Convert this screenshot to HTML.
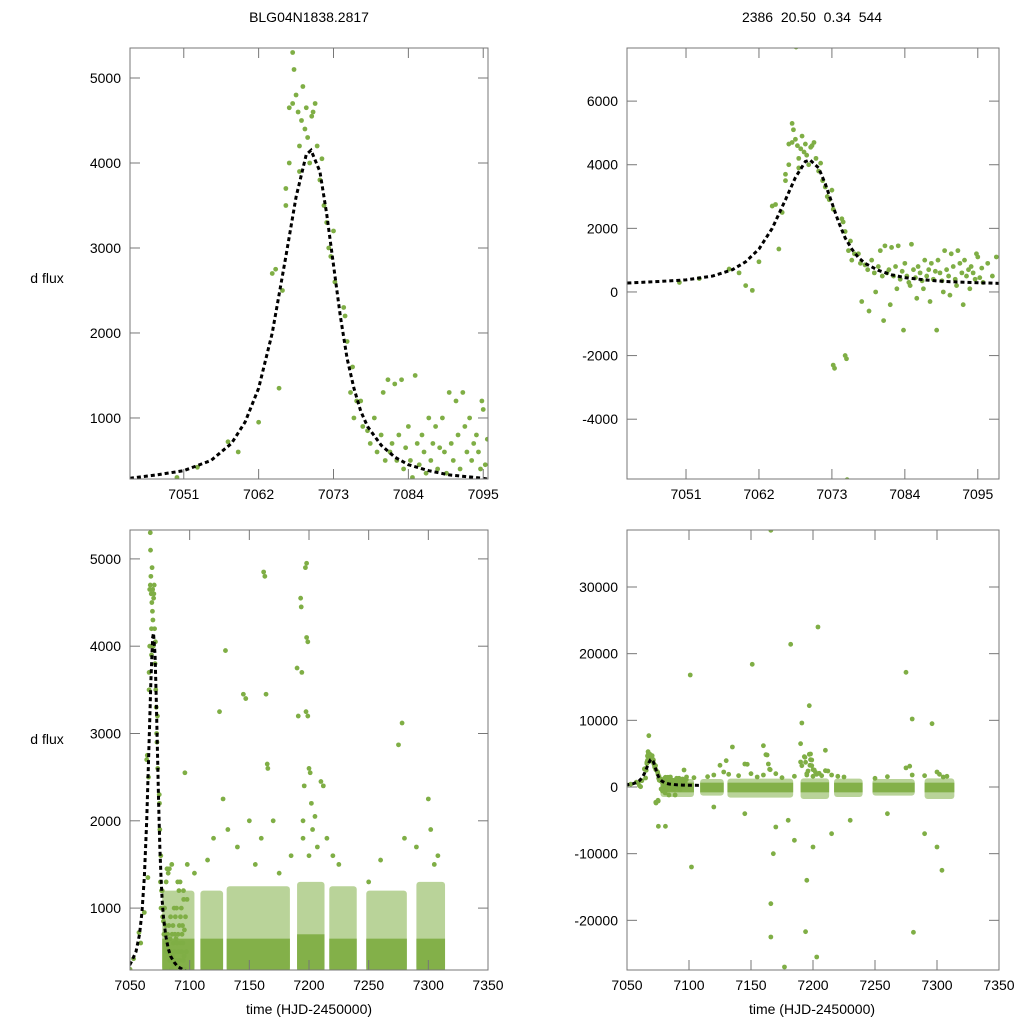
<!DOCTYPE html>
<html><head><meta charset="utf-8">
<style>
html,body{margin:0;padding:0;background:#fff;width:1024px;height:1024px;overflow:hidden;}
svg{display:block;font-family:"Liberation Sans",sans-serif;}
</style></head>
<body>
<svg id="chart" width="1024" height="1024" viewBox="0 0 1024 1024">
<rect width="1024" height="1024" fill="#fff"/>
<text x="309" y="22" font-size="14" text-anchor="middle" fill="#000">BLG04N1838.2817</text>
<text x="812" y="22" font-size="14" text-anchor="middle" fill="#000" xml:space="preserve">2386  20.50  0.34  544</text>
<text x="47" y="283" font-size="14" text-anchor="middle" fill="#000">d flux</text>
<text x="47" y="744" font-size="14" text-anchor="middle" fill="#000">d flux</text>
<text x="309" y="1014" font-size="14" text-anchor="middle" fill="#000">time (HJD-2450000)</text>
<text x="812" y="1014" font-size="14" text-anchor="middle" fill="#000">time (HJD-2450000)</text>
</svg>
<script>
// observations (time, flux)
const obsTime=[7050,7053,7057.5,7059,7060,7061,7062,7064,7064.5,7065,7065.5,7066,7066,7066.5,7066.5,7067,7067,7067.2,7067.5,7067.6,7067.8,7068,7068,7068.3,7068.5,7068.8,7069,7069.2,7069.5,7069.8,7070,7070.3,7070.6,7071,7071.3,7071.6,7072,7072.3,7072.6,7073,7073.2,7073.2,7073.4,7074.5,7074.7,7075,7075,7075.2,7075.3,7075.5,7075.8,7076,7076.4,7077,7077.3,7077.5,7078,7078.4,7078.6,7079,7079.4,7079.6,7080,7080.3,7080.6,7080.8,7081,7081.3,7081.6,7081.8,7082,7082.3,7082.6,7082.8,7083,7083.3,7083.6,7083.8,7084,7084.3,7084.6,7084.8,7085,7085.3,7085.6,7085.8,7086,7086.3,7086.6,7086.8,7087,7087.3,7087.6,7087.8,7088,7088.3,7088.6,7088.8,7089,7089.3,7089.6,7089.8,7090,7090.3,7090.6,7090.8,7091,7091.3,7091.6,7091.8,7092,7092.3,7092.6,7092.8,7093,7093.3,7093.6,7093.8,7094,7094.3,7094.6,7094.8,7095,7095.3,7095.6,7095.8,7096.5,7097.2,7097.8];
const obsFlux=[300,420,720,600,200,50,950,2700,2750,1350,2500,3500,3700,4650,4000,4700,5300,5100,4800,7700,4600,4200,3900,4500,4900,4400,4650,4300,4000,4550,4600,4700,4200,3800,4050,3500,3300,3000,2900,3200,2600,-2300,-2400,2300,2200,1900,-2000,-2100,-5900,1300,1600,1000,1200,1200,900,-300,850,700,-600,1000,600,0,800,1300,500,-900,1450,600,700,-400,1400,500,800,100,1450,400,650,-1200,900,500,300,200,1500,700,450,-200,800,600,350,100,1000,500,700,-300,900,400,650,-1200,1000,600,350,0,1300,700,500,-100,1200,800,400,200,1300,900,600,-400,1000,500,700,100,800,600,400,1200,1100,450,750,300,900,500,1100];
// outliers of later seasons
const outTime=[7096,7098,7104,7115,7120,7125,7128,7130,7132,7140,7145,7147,7150,7155,7160,7162,7163,7164,7165,7165.5,7170,7175,7185,7190,7191,7193,7193.5,7194,7195,7195,7196,7197,7198,7198,7199,7197.5,7199,7200,7201,7202,7203,7200,7205,7207,7210,7212,7215,7220,7225,7250,7260,7275,7278,7280,7290,7300,7302,7305,7308,
7101,7151,7166,7182,7204,7197,7191,7280,7275,7296,7102,7166,7166,7177,7194,7203,7281,7304,7195,7168,7081,7135,7160,7170,7185,7200,7215,7230,7260,7290,7300,7120,7145,7210,7190,7180];
const outFlux=[2550,1500,1400,1550,1800,3250,2250,3950,1900,1700,3450,3400,2000,1500,1800,4850,4800,3450,2650,2600,2000,1400,1600,3750,3200,4550,4450,3700,2000,1800,2400,4900,4950,4100,4050,3250,3200,2600,2550,2200,1900,1600,2050,1700,2450,2400,1800,1600,1500,1300,1550,2870,3120,1800,1700,2250,1900,1500,1600,
16800,18400,38500,21400,24000,12200,9600,10200,17200,9500,-12000,-17500,-22500,-27000,-21700,-25500,-21800,-12500,-14000,-10000,-5900,6000,6200,-6000,-8000,-9000,-7000,-5000,-4000,-7000,-9000,-3000,-4000,5500,6500,-5000];
// dense observing seasons (density bands)
const bandStart=[7077,7109,7131,7190,7217,7248,7290];
const bandEnd=[7104,7128,7184,7213,7240,7282,7314];
const coreLow=[-800,-800,-800,-800,-800,-800,-800];
const coreHigh=[650,650,650,700,650,650,650];
const outerLow=[-1500,-1300,-1600,-1800,-1500,-1300,-1800];
const outerHigh=[1200,1200,1250,1300,1250,1200,1300];
// microlensing model samples
const modelT=[7040,7043,7047,7051,7055,7058,7060,7062,7064,7066,7067.5,7069,7069.7,7071,7072,7073,7074,7075,7076,7077,7078,7080,7082,7084,7087,7090,7095,7100,7105,7110];
const modelF=[270,290,330,380,500,700,950,1350,2000,2900,3600,4100,4150,3900,3400,2800,2200,1700,1350,1080,900,680,540,450,380,330,290,265,255,250];

const panels=[
 {name:'zoom-event-panel',x0:130,x1:488,y0:48,y1:479,xd:[7043.1,7095.7],yd:[282,5353],xt:[7051,7062,7073,7084,7095],yt:[1000,2000,3000,4000,5000],bands:false},
 {name:'zoom-full-range-panel',x0:627,x1:999,y0:48,y1:479,xd:[7042.1,7098.2],yd:[-5880,7670],xt:[7051,7062,7073,7084,7095],yt:[-4000,-2000,0,2000,4000,6000],bands:false},
 {name:'season-panel',x0:130,x1:488,y0:530,y1:970,xd:[7050,7350],yd:[291,5331],xt:[7050,7100,7150,7200,7250,7300,7350],yt:[1000,2000,3000,4000,5000],bands:true},
 {name:'season-full-range-panel',x0:627,x1:999,y0:530,y1:970,xd:[7050,7350],yd:[-27450,38550],xt:[7050,7100,7150,7200,7250,7300,7350],yt:[-20000,-10000,0,10000,20000,30000],bands:true}
];
const NS='http://www.w3.org/2000/svg';
const svg=document.getElementById('chart');
function mk(tag,attrs,parent){const e=document.createElementNS(NS,tag);for(const k in attrs)e.setAttribute(k,attrs[k]);(parent||svg).appendChild(e);return e;}
const GREEN='#7fae45';
panels.forEach((p,pi)=>{
 const sx=t=>p.x0+(t-p.xd[0])/(p.xd[1]-p.xd[0])*(p.x1-p.x0);
 const sy=f=>p.y1-(f-p.yd[0])/(p.yd[1]-p.yd[0])*(p.y1-p.y0);
 const inside=(t,f)=>t>=p.xd[0]&&t<=p.xd[1]&&f>=p.yd[0]-100&&f<=p.yd[1]+100;
 const clampF=f=>Math.max(p.yd[0],Math.min(p.yd[1],f));
 const g=mk('g',{});
 
 
 const cp=mk('clipPath',{id:'clip'+pi},g);
 mk('rect',{x:p.x0,y:p.y0,width:p.x1-p.x0,height:p.y1-p.y0},cp);
 const data=mk('g',{'clip-path':'url(#clip'+pi+')'},g);
 if(p.bands){
  for(let i=0;i<bandStart.length;i++){
   const oh=clampF(outerHigh[i]),ol=clampF(outerLow[i]);
   const o=mk('rect',{x:sx(bandStart[i]),width:sx(bandEnd[i])-sx(bandStart[i]),y:sy(oh),height:sy(ol)-sy(oh),fill:GREEN,'fill-opacity':0.55,rx:3},data);
   
   
   const ch=clampF(coreHigh[i]),cl=clampF(coreLow[i]);
   const c=mk('rect',{x:sx(bandStart[i]),width:sx(bandEnd[i])-sx(bandStart[i]),y:sy(ch),height:sy(cl)-sy(ch),fill:GREEN,'fill-opacity':0.95},data);
   
   
  }
 }
 const r=2.4;
 const drawPt=(t,f)=>{if(!inside(t,f))return;
  const c=mk('circle',{cx:sx(t),cy:sy(f),r:r,fill:GREEN},data);
  
  };
 for(let i=0;i<obsTime.length;i++)drawPt(obsTime[i],obsFlux[i]);
 if(p.bands)for(let i=0;i<outTime.length;i++)drawPt(outTime[i],outFlux[i]);
 const d=modelT.map((t,i)=>(i?'L':'M')+sx(Math.max(p.xd[0]-1,Math.min(p.xd[1]+1,t))).toFixed(2)+','+sy(modelF[i]).toFixed(2)).join('');
 const ml=mk('path',{d:d,fill:'none',stroke:'#000','stroke-width':3,'stroke-dasharray':'4,3'},data);
 
 
 const fr=mk('rect',{x:p.x0,y:p.y0,width:p.x1-p.x0,height:p.y1-p.y0,fill:'none',stroke:'#777','stroke-width':1},g);
 
 
 p.xt.forEach(t=>{const x=sx(t);
  mk('line',{x1:x,x2:x,y1:p.y1,y2:p.y1-10,stroke:'#777'},g);
  mk('line',{x1:x,x2:x,y1:p.y0,y2:p.y0+10,stroke:'#777'},g);
  const tx=mk('text',{x:x,y:p.y1+20,'font-size':14,'text-anchor':'middle',fill:'#000'},g);tx.textContent=t;
  
  });
 p.yt.forEach(f=>{const y=sy(f);
  mk('line',{x1:p.x0,x2:p.x0+10,y1:y,y2:y,stroke:'#777'},g);
  mk('line',{x1:p.x1,x2:p.x1-10,y1:y,y2:y,stroke:'#777'},g);
  const tx=mk('text',{x:p.x0-9,y:y+5,'font-size':14,'text-anchor':'end',fill:'#000'},g);tx.textContent=f;
  
  });
});
</script>
</body></html>
